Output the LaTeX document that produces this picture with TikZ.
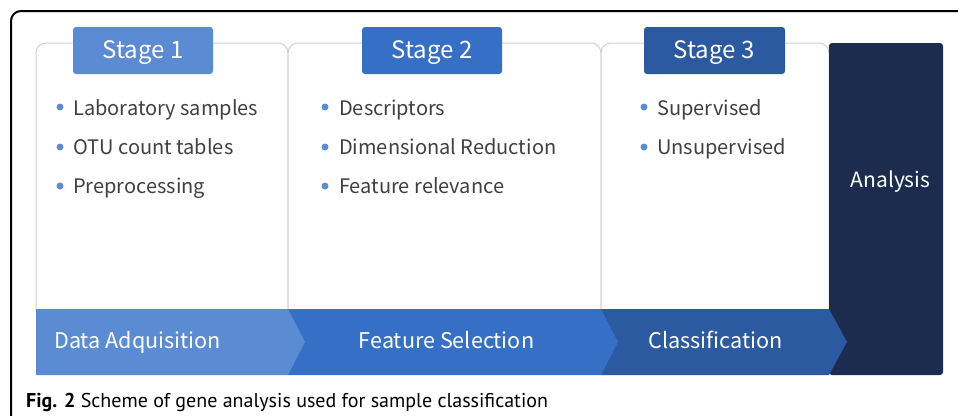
\documentclass[tikz,border=0pt]{standalone}
\usepackage{fontspec}
\setmainfont{Noto Sans CJK KR}
\newfontfamily\capfont{PT Sans}
\definecolor{stA}{HTML}{5B8BD3}
\definecolor{stB}{HTML}{3670C6}
\definecolor{stC}{HTML}{2C5AA0}
\definecolor{stD}{HTML}{1B2C4F}
\definecolor{panelline}{HTML}{D0D0D0}
\definecolor{bodytext}{HTML}{404040}
\tikzset{
  panel/.style={draw=panelline, line width=1pt, fill=white, rounded corners=10pt},
  tabtext/.style={anchor=base, text=white, font=\fontsize{24}{28}\selectfont},
  item/.style={anchor=base west, text=bodytext, font=\fontsize{20}{24}\selectfont, inner sep=0pt},
  bandtext/.style={anchor=base, text=white, font=\fontsize{21.6}{26}\selectfont, inner sep=0pt},
  dot/.style={circle, fill=stA, inner sep=0pt, minimum size=7pt}
}
\begin{document}
\begin{tikzpicture}[x=1pt, y=-1pt]
\useasboundingbox (0,0) rectangle (958,415);
\fill[white] (0,0) rectangle (958,415);
% figure frame
\draw[line width=2pt, rounded corners=10pt] (11,420) -- (11,11) -- (962,11);

% stage panels
\draw[panel] (36,310) -- (36,43) -- (288,43) -- (288,310);
\draw[panel] (288,310) -- (288,43) -- (601,43) -- (601,310);
\draw[panel] (601,310) -- (601,43) -- (829,43) -- (829,310);

% analysis column
\fill[stD, rounded corners=3pt] (829,375) -- (829,43) -- (943,43) -- (943,375) -- cycle;
\node[text=white, anchor=base, font=\fontsize{21}{25}\selectfont] (analysis) at (890.5,187) {Analysis};

% process band (drawn back to front so each tip overlaps the next piece)
\fill[stC] (601,309) -- (829,309) -- (847,342) -- (829,375) -- (601,375) -- cycle;
\fill[stB] (288,309) -- (601,309) -- (618,342) -- (601,375) -- (288,375) -- cycle;
\fill[stA] (36,309) -- (288,309) -- (305,342) -- (288,375) -- (36,375) -- cycle;
\node[bandtext, anchor=base west] (bandA) at (54,348) {Data Adquisition};
\node[bandtext] (bandB) at (446.5,348) {Feature Selection};
\node[bandtext] (bandC) at (715.5,348) {Classification};

% stage tabs
\fill[stA, rounded corners=3pt] (73,27) rectangle (213,74);
\fill[stB, rounded corners=3pt] (362,27) rectangle (502,74);
\fill[stC, rounded corners=3pt] (644,27) rectangle (785,74);
\node[tabtext] (tabA) at (143,58) {Stage 1};
\node[tabtext] (tabB) at (432,58) {Stage 2};
\node[tabtext] (tabC) at (714,58) {Stage 3};

% stage 1 items
\node[dot] (dA1) at (60,107) {};
\node[dot] (dA2) at (60,147) {};
\node[dot] (dA3) at (60,186) {};
\node[item] (iA1) at (73,115) {Laboratory samples};
\node[item] (iA2) at (73,154) {OTU count tables};
\node[item] (iA3) at (73,193) {Preprocessing};

% stage 2 items
\node[dot] (dB1) at (325,107) {};
\node[dot] (dB2) at (325,147) {};
\node[dot] (dB3) at (325,186) {};
\node[item] (iB1) at (339,115) {Descriptors};
\node[item] (iB2) at (339,154) {Dimensional Reduction};
\node[item] (iB3) at (339,193) {Feature relevance};

% stage 3 items
\node[dot] (dC1) at (644,107) {};
\node[dot] (dC2) at (644,147) {};
\node[item] (iC1) at (657,115) {Supervised};
\node[item] (iC2) at (657,154) {Unsupervised};

% caption
\node[anchor=base west, inner sep=0pt, font=\capfont\fontsize{20}{24}\selectfont] (caption) at (26,407)
  {\textbf{Fig. 2} Scheme of gene analysis used for sample classification};
\end{tikzpicture}
\end{document}
